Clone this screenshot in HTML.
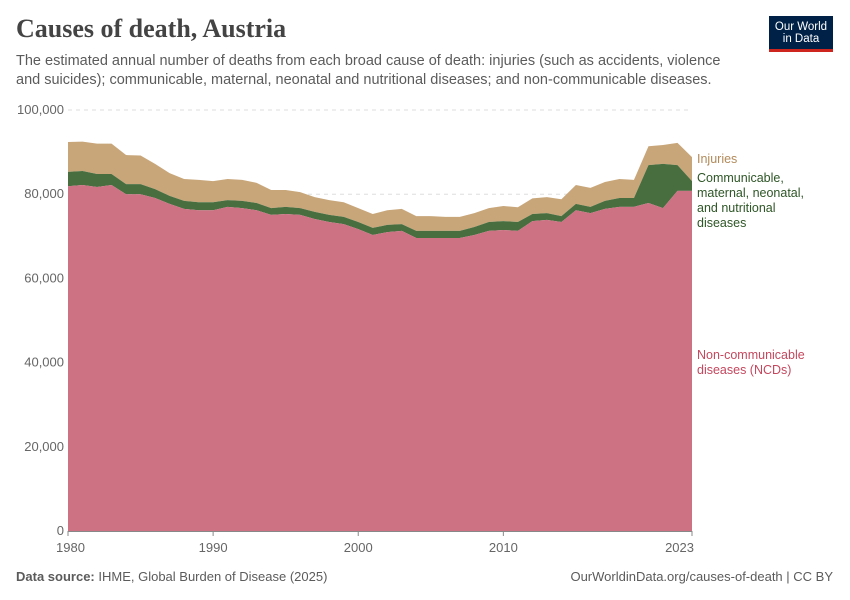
<!DOCTYPE html>
<html><head><meta charset="utf-8"><style>
body{margin:0;background:#fff;font-family:"Liberation Sans",sans-serif;}
#wrap{position:relative;width:850px;height:600px;overflow:hidden;}
.t{position:absolute;white-space:nowrap;}
</style></head><body>
<div id="wrap">
<div class="t" style="left:16px;top:14px;font-family:'Liberation Serif',serif;font-size:26px;font-weight:bold;color:#444;">Causes of death, Austria</div>
<div class="t" style="left:16px;top:52px;font-size:14.5px;line-height:19px;color:#5b5b5b;">The estimated annual number of deaths from each broad cause of death: injuries (such as accidents, violence<br>and suicides); communicable, maternal, neonatal and nutritional diseases; and non-communicable diseases.</div>
<div style="position:absolute;left:769px;top:16px;width:64px;height:36px;background:#002147;border-bottom:3px solid #ce261e;box-sizing:border-box;color:#fff;font-size:11.5px;line-height:12px;text-align:center;padding-top:5px;">Our World<br>in Data</div>
<svg id="chart" width="850" height="600" style="position:absolute;left:0;top:0"></svg>
<div class="t" style="left:16px;top:569px;font-size:13px;color:#5b5b5b;"><b>Data source:</b> IHME, Global Burden of Disease (2025)</div>
<div class="t" style="right:17px;top:569px;font-size:13px;color:#5b5b5b;">OurWorldinData.org/causes-of-death | CC BY</div>
</div>
<script>
const years=[1980,1981,1982,1983,1984,1985,1986,1987,1988,1989,1990,1991,1992,1993,1994,1995,1996,1997,1998,1999,2000,2001,2002,2003,2004,2005,2006,2007,2008,2009,2010,2011,2012,2013,2014,2015,2016,2017,2018,2019,2020,2021,2022,2023];
const ncd=[81.9,82.2,81.7,82.2,80.0,80.0,79.1,77.7,76.5,76.2,76.2,77.0,76.7,76.2,75.1,75.3,75.1,74.1,73.4,72.9,71.7,70.3,71.0,71.3,69.6,69.6,69.6,69.6,70.3,71.3,71.5,71.3,73.6,73.9,73.4,76.2,75.5,76.5,77.0,77.0,77.9,76.7,80.8,80.8];
const comm=[3.4,3.3,3.1,2.6,2.4,2.4,2.1,1.9,1.9,1.9,1.9,1.6,1.7,1.7,1.6,1.7,1.6,1.7,1.7,1.7,1.7,1.7,1.7,1.6,1.7,1.7,1.7,1.7,1.9,2.1,2.1,2.1,1.7,1.6,1.4,1.5,1.5,1.9,2.1,2.1,9.0,10.5,6.1,2.3];
const inj=[7.1,7.0,7.2,7.2,6.9,6.8,6.0,5.4,5.2,5.3,5.0,5.0,5.0,4.8,4.3,4.0,3.8,3.5,3.5,3.5,3.3,3.3,3.5,3.6,3.5,3.5,3.3,3.3,3.3,3.3,3.6,3.5,3.7,3.8,4.0,4.5,4.5,4.5,4.5,4.3,4.5,4.5,5.3,5.7];
const yTicks=[0,20000,40000,60000,80000,100000];
const xTicks=[1980,1990,2000,2010,2023];
const svg=document.getElementById('chart');const NS='http://www.w3.org/2000/svg';
const X=y=>68+(y-1980)*(692-68)/43, Y=v=>531-v*(421/100000);
function mk(t,a){const e=document.createElementNS(NS,t);for(const k in a)e.setAttribute(k,a[k]);svg.appendChild(e);return e;}
yTicks.forEach(v=>{
 if(v>0){const l=mk('line',{x1:68,x2:692,y1:Y(v),y2:Y(v),stroke:'#ddd','stroke-dasharray':'4,4'});
 
 }
 const t=mk('text',{x:64,y:Y(v)+4,'text-anchor':'end','font-size':13,fill:'#666','font-family':'Liberation Sans'});t.textContent=v.toLocaleString('en-US');
 
 
});
const c1=ncd.map(v=>v*1000),c2=ncd.map((v,i)=>(v+comm[i])*1000),c3=ncd.map((v,i)=>(v+comm[i]+inj[i])*1000);
function area(top,bot,fill,name){let d='M'+years.map((y,i)=>X(y)+','+Y(top[i])).join('L');
 for(let i=years.length-1;i>=0;i--)d+='L'+X(years[i])+','+Y(bot?bot[i]:0);
 const p=mk('path',{d:d+'Z',fill:fill});
 
 }
area(c3,c2,'#c8a67a','area-injuries');
area(c2,c1,'#486e40','area-communicable');
area(c1,null,'#cc7283','area-ncds');
const ax=mk('line',{x1:68,x2:692,y1:531.5,y2:531.5,stroke:'#888'});


xTicks.forEach(y=>{const tk=mk('line',{x1:X(y),x2:X(y),y1:531,y2:536,stroke:'#888'});
 
 
 const t=mk('text',{x:X(y),y:552,'text-anchor':y==1980?'start':(y==2023?'end':'middle'),'font-size':13,fill:'#666','font-family':'Liberation Sans'});
 if(y==1980)t.setAttribute('x',X(y)-12);if(y==2023)t.setAttribute('x',X(y)+2);
 t.textContent=y;
 
 });
function lab(lines,y0,col,name){const t=mk('text',{x:697,y:y0,'font-size':12.5,fill:col,'font-family':'Liberation Sans'});
 lines.forEach((s,i)=>{const ts=mk('tspan',{x:697,dy:i?15:0});ts.textContent=s;t.appendChild(ts);});
 
 }
lab(['Injuries'],163,'#b28a5a','legend-injuries');
lab(['Communicable,','maternal, neonatal,','and nutritional','diseases'],182,'#2e5626','legend-communicable');
lab(['Non-communicable','diseases (NCDs)'],359,'#c5475e','legend-ncds');
</script>
</body></html>
